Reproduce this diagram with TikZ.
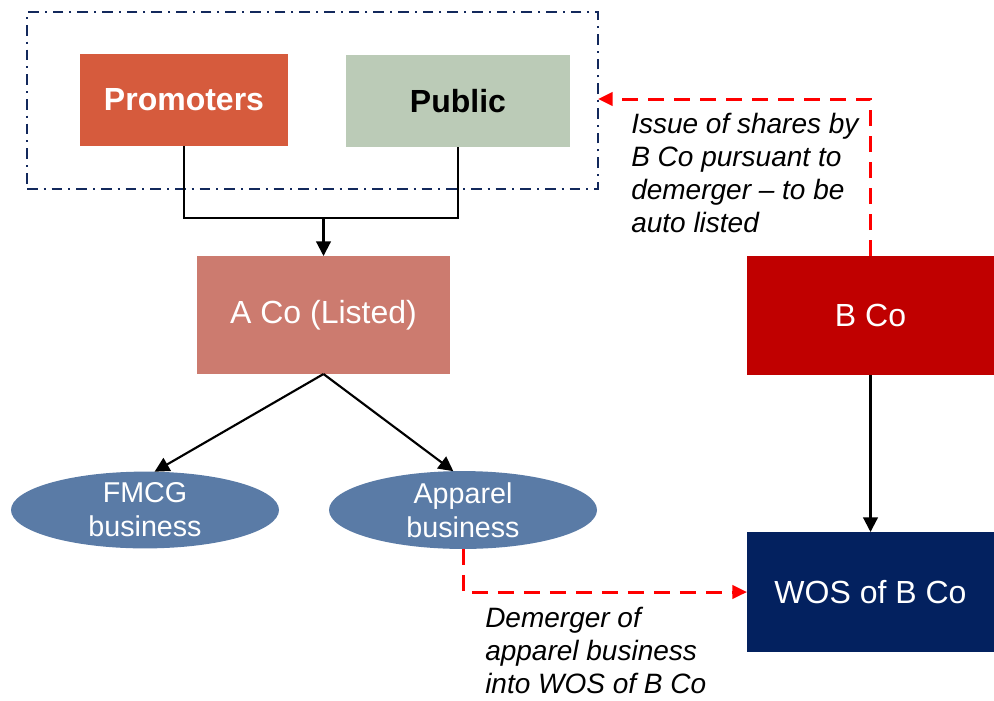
\documentclass[tikz,border=0pt]{standalone}
\usepackage{fontspec}
\setmainfont{Liberation Sans}
\usetikzlibrary{arrows.meta,shapes.geometric}

\definecolor{promo}{HTML}{D65B3D}
\definecolor{publicc}{HTML}{BBCBB7}
\definecolor{acoc}{HTML}{CC7B6F}
\definecolor{bcoc}{HTML}{C00000}
\definecolor{wosc}{HTML}{03215F}
\definecolor{bizc}{HTML}{5A7BA6}
\definecolor{grpc}{HTML}{13295C}
\definecolor{flowred}{HTML}{FF0000}

\begin{document}
\begin{tikzpicture}[x=0.75pt,y=-0.75pt,
  box/.style={rectangle,draw=none,outer sep=0pt,inner sep=2pt,align=center,
    font=\fontsize{24}{28.8}\selectfont,text=white},
  biz/.style={ellipse,fill=bizc,draw=none,outer sep=0pt,inner sep=0pt,
    minimum width=201pt,minimum height=56.25pt,align=center,text=white,
    font=\fontsize{21.5}{25.5}\selectfont},
  note/.style={inner sep=0pt,anchor=north west,align=left,
    font=\fontsize{21}{24.75}\selectfont\itshape},
  link/.style={draw=black,line width=1.6pt,-{Triangle[length=11pt,width=11pt]}},
  plain/.style={draw=black,line width=1.6pt},
  redflow/.style={draw=flowred,line width=2.25pt,dash pattern=on 12pt off 7.5pt,
    -{Triangle[length=11pt,width=10pt]}},
  grpbox/.style={rectangle,draw=grpc,line width=1.9pt,
    dash pattern=on 8pt off 4.5pt on 1.5pt off 4.5pt,
    minimum width=428.25pt,minimum height=132.75pt,outer sep=0pt}]
\useasboundingbox (0,0) rectangle (994,700);

% shareholder group
\node[grpbox] (grp) at (312.5,100.5) {};
\node[box,fill=promo,minimum width=156pt,minimum height=69pt,font=\fontsize{24}{28.8}\selectfont\bfseries]
  (prom) at (184,100) {Promoters};
\node[box,fill=publicc,text=black,minimum width=168pt,minimum height=69pt,font=\fontsize{24}{28.8}\selectfont\bfseries]
  (pub) at (458,101) {Public};

% companies
\node[box,fill=acoc,minimum width=189.75pt,minimum height=88.5pt] (aco) at (323.5,315) {A Co (Listed)};
\node[box,fill=bcoc,minimum width=185.25pt,minimum height=89.25pt] (bco) at (870.5,315.5) {B Co};
\node[box,fill=wosc,minimum width=185.25pt,minimum height=90pt] (wos) at (870.5,592) {WOS of B Co};

% businesses
\node[biz] (fmcg) at (145,510) {FMCG\\business};
\node[biz] (app) at (463,510) {Apparel\\business};

% shareholding connectors
\coordinate (merge) at (323.5,218);
\draw[plain] (prom.south) |- (merge) -| (pub.south);
\draw[link] (merge) -- (aco.north);
\draw[link] (aco.south) -- (fmcg.76);
\draw[link] (aco.south) -- (app.104);
\draw[link] (bco.south) -- (wos.north);

% demerger flows
\coordinate (issuelevel) at (0,99);
\draw[redflow] (bco.north) |- (grp.east |- issuelevel);
\draw[redflow] (app.south) |- (wos.west);

% notes
\node[note] (issuenote) at (631,113) {Issue of shares by\\B Co pursuant to\\demerger -- to be\\auto listed};
\node[note] (demnote) at (485,607) {Demerger of\\apparel business\\into WOS of B Co};
\end{tikzpicture}
\end{document}
